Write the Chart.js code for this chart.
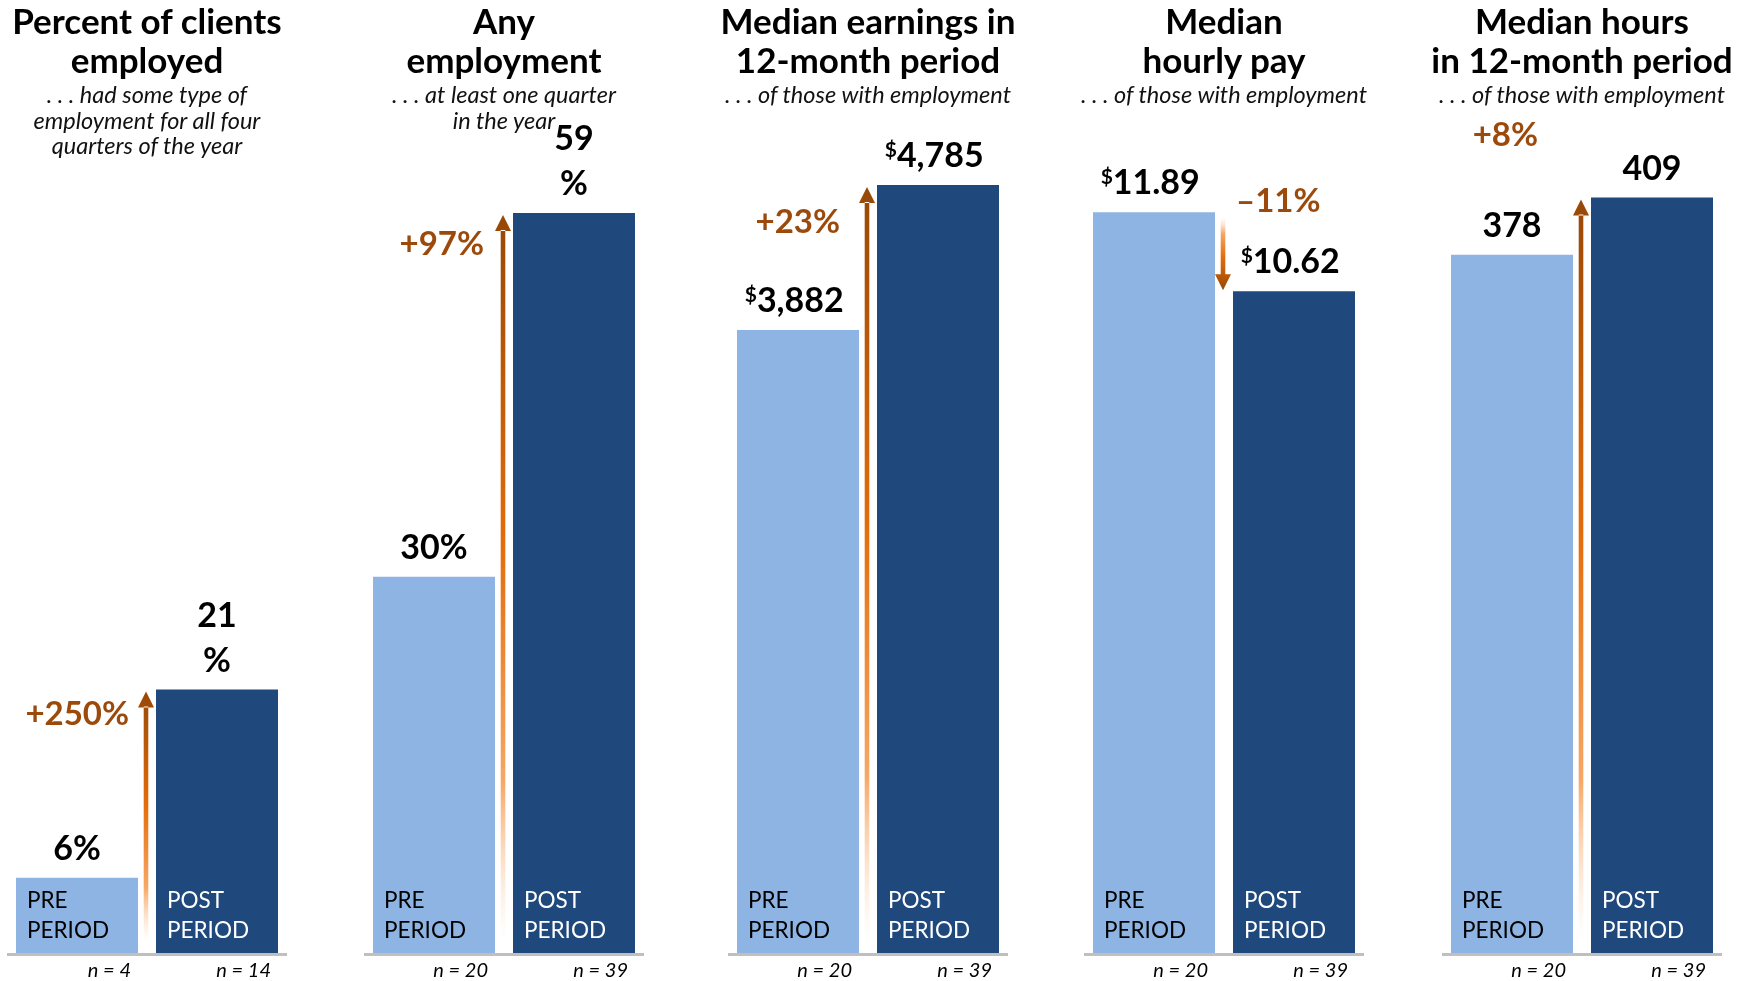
<!DOCTYPE html>
<html>
<head>
<meta charset="utf-8">
<script src="https://cdn.jsdelivr.net/npm/chart.js@4.4.1/dist/chart.umd.min.js"></script>
<style>
  html, body { margin: 0; padding: 0; background: #fff; width: 1746px; height: 981px; overflow: hidden; }
  .panel { position: absolute; top: 0; width: 360px; height: 981px; }
  .panel canvas { position: absolute; left: 0; top: 0; }
  .title { position: absolute; left: 0; top: 1px; width: 360px; text-align: center;
           font: 700 35px Lato, "Open Sans", sans-serif; line-height: 39px; color: #000; pointer-events: none; }
  .sub { position: absolute; left: 0; top: 82px; width: 360px; text-align: center;
         font: italic 400 23.5px Lato, "Open Sans", sans-serif; line-height: 25.5px; color: #111; pointer-events: none; }
</style>
</head>
<body>
<script>
// ---------------- DATA ----------------
const panelTitles = [
  ["Percent of clients", "employed"],
  ["Any", "employment"],
  ["Median earnings in", "12-month period"],
  ["Median", "hourly pay"],
  ["Median hours", "in 12-month period"]
];
const panelSubtitles = [
  [". . . had some type of", "employment for all four", "quarters of the year"],
  [". . . at least one quarter", "in the year"],
  [". . . of those with employment"],
  [". . . of those with employment"],
  [". . . of those with employment"]
];
const categories = ["PRE PERIOD", "POST PERIOD"];
const preValues  = [6, 30, 3882, 11.89, 378];
const postValues = [21, 59, 4785, 10.62, 409];
const valueFormats = ["pct", "pct", "usd0", "usd2", "num"];
const sampleSizes = [
  ["n = 4", "n = 14"],
  ["n = 20", "n = 39"],
  ["n = 20", "n = 39"],
  ["n = 20", "n = 39"],
  ["n = 20", "n = 39"]
];
const changeLabels = ["+250%", "+97%", "+23%", "\u201311%", "+8%"];

// ---------------- STYLE / LAYOUT ----------------
const FONT = 'Lato, "Open Sans", sans-serif';
const COLORS = { pre: '#8EB4E3', post: '#1F497D', base: '#BFBFBF', change: '#9C4A0C' };
const panelLefts = [7, 364, 728, 1084, 1442];
const PAD = 40, PANEL_W = 280;
const axisMax = [68, 68, 5315, 13.69, 461.8];
const wrapPostLabel = [true, true, false, false, false];
const changeStyle = [
  { align: 'right', dx: -17, dy: 35 },
  { align: 'right', dx: -19, dy: 42 },
  { align: 'right', dx: -27, dy: 48 },
  { align: 'left',  dx: 13,  dy: 0 },
  { align: 'right', dx: -43, dy: -52 }
];

function fmtNumber(v, fmt) {
  if (fmt === 'pct') return { sup: '', text: v + '%', pctSplit: [String(v), '%'] };
  if (fmt === 'usd0') return { sup: '$', text: v.toLocaleString('en-US') };
  if (fmt === 'usd2') return { sup: '$', text: v.toFixed(2) };
  return { sup: '', text: String(v) };
}

function drawArrow(ctx, x, tail, tip) {
  const up = tip < tail;
  const head = 16, hw = 8, sw = 2.3;
  const grad = ctx.createLinearGradient(0, tip, 0, tail);
  grad.addColorStop(0, '#974806');
  grad.addColorStop(0.45, '#E46C0A');
  grad.addColorStop(0.78, '#F6A866');
  grad.addColorStop(1, 'rgba(252,222,196,0)');
  ctx.fillStyle = grad;
  ctx.beginPath();
  if (up) {
    ctx.rect(x - sw, tip + head - 1, 2 * sw, tail - (tip + head - 1));
    ctx.moveTo(x, tip); ctx.lineTo(x - hw, tip + head); ctx.lineTo(x + hw, tip + head); ctx.closePath();
  } else {
    ctx.rect(x - sw, tail, 2 * sw, (tip - head + 1) - tail);
    ctx.moveTo(x, tip); ctx.lineTo(x - hw, tip - head); ctx.lineTo(x + hw, tip - head); ctx.closePath();
  }
  ctx.fill();
}

function drawValueLabel(ctx, v, fmt, cx, baseY, wrap) {
  const f = fmtNumber(v, fmt);
  ctx.fillStyle = '#000';
  ctx.textBaseline = 'alphabetic';
  ctx.font = `700 34px ${FONT}`;
  if (wrap && f.pctSplit) {
    ctx.textAlign = 'center';
    ctx.fillText(f.pctSplit[0], cx, baseY - 45);
    ctx.fillText(f.pctSplit[1], cx, baseY);
    return;
  }
  if (!f.sup) {
    ctx.textAlign = 'center';
    ctx.fillText(f.text, cx, baseY);
    return;
  }
  const wNum = ctx.measureText(f.text).width;
  const wSupFull = ctx.measureText(f.sup).width;
  ctx.font = `700 21px ${FONT}`;
  const wSup = ctx.measureText(f.sup).width;
  const start = cx - (wSupFull + wNum) / 2;
  ctx.textAlign = 'left';
  ctx.fillText(f.sup, start, baseY - 10);
  ctx.font = `700 34px ${FONT}`;
  ctx.fillText(f.text, start + wSup, baseY);
}

function annotPlugin(i) {
  return {
    id: 'annot' + i,
    afterDatasetsDraw(chart) {
      const ctx = chart.ctx;
      const area = chart.chartArea;
      const bars = chart.getDatasetMeta(0).data;
      const pre = bars[0], post = bars[1];
      ctx.save();
      // baseline
      ctx.fillStyle = COLORS.base;
      ctx.fillRect(area.left, area.bottom, area.right - area.left, 3);
      // category labels inside bars
      ctx.font = `400 22.5px ${FONT}`;
      ctx.textAlign = 'left';
      ctx.textBaseline = 'alphabetic';
      bars.forEach((b, j) => {
        const left = b.x - b.width / 2;
        const words = categories[j].split(' ');
        ctx.fillStyle = j === 0 ? '#000' : '#fff';
        ctx.fillText(words[0], left + 11, area.bottom - 45);
        ctx.fillText(words[1], left + 11, area.bottom - 15);
      });
      // sample sizes
      ctx.font = `italic 400 20px ${FONT}`;
      ctx.textAlign = 'right';
      ctx.fillStyle = '#000';
      bars.forEach((b, j) => {
        ctx.fillText(sampleSizes[i][j], b.x + b.width / 2 - 7, area.bottom + 24);
      });
      // value labels
      drawValueLabel(ctx, preValues[i], valueFormats[i], pre.x, pre.y - 18, false);
      drawValueLabel(ctx, postValues[i], valueFormats[i], post.x, post.y - 18, wrapPostLabel[i]);
      // arrow
      const ax = ((pre.x + pre.width / 2) + (post.x - post.width / 2)) / 2 - 1;
      if (postValues[i] >= preValues[i]) {
        drawArrow(ctx, ax, area.bottom - 10, post.y + 2);
      } else {
        drawArrow(ctx, ax, pre.y + 5, post.y - 1);
      }
      // change label
      const st = changeStyle[i];
      const topY = Math.min(pre.y, post.y);
      ctx.font = `700 33px ${FONT}`;
      ctx.fillStyle = COLORS.change;
      ctx.textAlign = st.align;
      ctx.fillText(changeLabels[i], ax + st.dx, topY + st.dy);
      ctx.restore();
    }
  };
}

function build() {
  for (let i = 0; i < 5; i++) {
    const panel = document.createElement('div');
    panel.className = 'panel';
    panel.style.left = (panelLefts[i] - PAD) + 'px';
    const canvas = document.createElement('canvas');
    canvas.width = PANEL_W + 2 * PAD;
    canvas.height = 981;
    canvas.style.width = canvas.width + 'px';
    canvas.style.height = '981px';
    panel.appendChild(canvas);
    const t = document.createElement('div');
    t.className = 'title';
    t.innerHTML = panelTitles[i].join('<br>');
    panel.appendChild(t);
    const s = document.createElement('div');
    s.className = 'sub';
    s.innerHTML = panelSubtitles[i].join('<br>');
    panel.appendChild(s);
    document.body.appendChild(panel);

    new Chart(canvas, {
      type: 'bar',
      data: {
        labels: categories,
        datasets: [{
          data: [preValues[i], postValues[i]],
          backgroundColor: [COLORS.pre, COLORS.post],
          borderWidth: 0,
          barPercentage: 122 / 140,
          categoryPercentage: 1
        }]
      },
      options: {
        responsive: false,
        animation: false,
        devicePixelRatio: 1,
        layout: { padding: { top: 100, bottom: 28, left: PAD, right: PAD } },
        plugins: { legend: { display: false }, tooltip: { enabled: false }, title: { display: false } },
        scales: {
          x: { display: false, grid: { display: false } },
          y: { display: false, min: 0, max: axisMax[i], grid: { display: false } }
        }
      },
      plugins: [annotPlugin(i)]
    });
  }
}

const fontsReady = (document.fonts && document.fonts.load)
  ? Promise.all([
      document.fonts.load(`700 34px Lato`),
      document.fonts.load(`400 22px Lato`),
      document.fonts.load(`italic 400 20px Lato`)
    ]).catch(() => {})
  : Promise.resolve();
fontsReady.then(build);
</script>
</body>
</html>
